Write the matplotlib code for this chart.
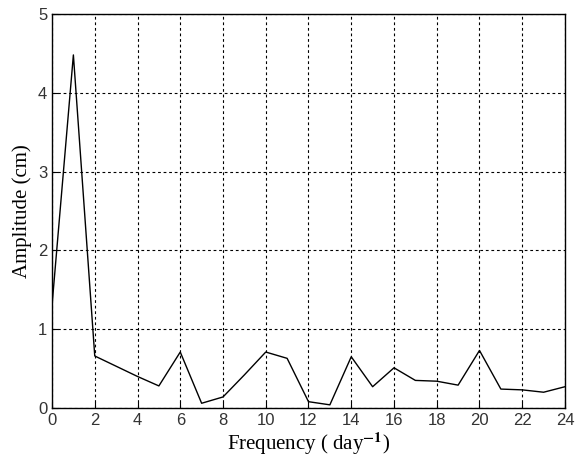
import numpy as np
import matplotlib
matplotlib.use("Agg")
import matplotlib.pyplot as plt

# amplitude spectrum
freq = list(range(0, 25))
amplitude = [1.30, 4.48, 0.66, 0.53, 0.40, 0.28, 0.71, 0.06, 0.14, 0.42,
             0.71, 0.63, 0.08, 0.04, 0.65, 0.27, 0.51, 0.35, 0.34, 0.29,
             0.73, 0.24, 0.23, 0.20, 0.27]

xticks = list(range(0, 25, 2))
yticks = [0, 1, 2, 3, 4, 5]

plt.rcParams["mathtext.fontset"] = "stix"

fig = plt.figure(figsize=(5.87, 4.65), dpi=100)
ax = fig.add_axes([0.0886, 0.1226, 0.8739, 0.8474])

ax.plot(freq, amplitude, color="black", linewidth=1.0)

ax.set_xlim(0, 24)
ax.set_ylim(0, 5)
ax.set_xticks(xticks)
ax.set_yticks(yticks)
ax.tick_params(direction="in", length=4, width=0.8, labelsize=12, colors="black")
for lab in ax.get_xticklabels() + ax.get_yticklabels():
    lab.set_family("Liberation Sans")
    lab.set_color("#333333")

ax.grid(True, color="black", linestyle=(0, (2.5, 2.5)), linewidth=0.8)
for s in ax.spines.values():
    s.set_linewidth(1.0)

ax.set_xlabel(r"Frequency ( day$^{\mathbf{-1}}$)", family="Liberation Serif", fontsize=15, labelpad=2)
ax.set_ylabel("Amplitude (cm)", family="Liberation Serif", fontsize=15, labelpad=4)

fig.savefig("out.png", dpi=100)
